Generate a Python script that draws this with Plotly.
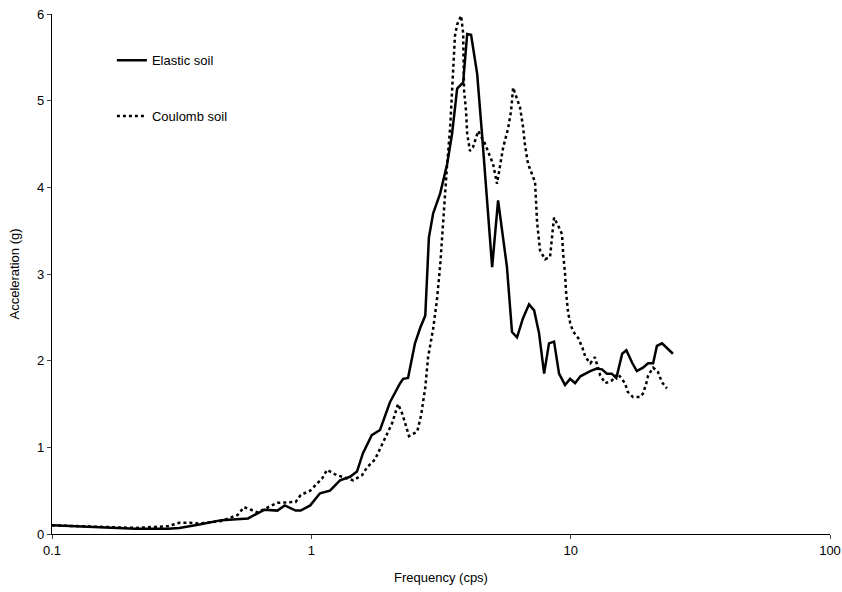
import plotly.graph_objects as go

# Elastic soil response spectrum (solid line)
elastic_freq = [0.10, 0.15, 0.21, 0.28, 0.31, 0.37, 0.45, 0.57, 0.66, 0.74, 0.79, 0.87, 0.91,
                0.99, 1.08, 1.18, 1.29, 1.41, 1.50, 1.58, 1.71, 1.84, 2.01, 2.20, 2.26, 2.36,
                2.51, 2.63, 2.75, 2.84, 2.95, 3.14, 3.34, 3.49, 3.65, 3.85, 3.99, 4.13, 4.36,
                4.55, 4.76, 4.98, 5.25, 5.54, 5.68, 5.94, 6.21, 6.55, 6.91, 7.23, 7.55, 7.90,
                8.25, 8.63, 9.02, 9.51, 9.95, 10.4, 10.9, 11.9, 12.6, 13.2, 13.8, 14.4, 15.0,
                15.8, 16.4, 17.3, 18.0, 19.0, 19.9, 20.8, 21.5, 22.5, 23.5, 24.8]
elastic_acc = [0.10, 0.08, 0.06, 0.06, 0.07, 0.11, 0.16, 0.18, 0.28, 0.27, 0.33, 0.27, 0.27,
               0.33, 0.47, 0.50, 0.62, 0.66, 0.72, 0.93, 1.14, 1.20, 1.52, 1.74, 1.79, 1.80,
               2.20, 2.38, 2.52, 3.42, 3.70, 3.93, 4.27, 4.62, 5.14, 5.21, 5.77, 5.76, 5.31,
               4.62, 3.85, 3.08, 3.85, 3.31, 3.08, 2.33, 2.27, 2.49, 2.65, 2.58, 2.32, 1.85,
               2.20, 2.22, 1.85, 1.72, 1.79, 1.74, 1.82, 1.88, 1.91, 1.90, 1.85, 1.85, 1.80,
               2.08, 2.12, 1.97, 1.88, 1.92, 1.97, 1.97, 2.17, 2.20, 2.15, 2.08]

# Coulomb soil response spectrum (dotted line)
coulomb_freq = [0.10, 0.15, 0.21, 0.28, 0.31, 0.34, 0.37, 0.45, 0.52, 0.55, 0.62, 0.74, 0.87,
                0.91, 0.99, 1.10, 1.15, 1.25, 1.45, 1.57, 1.64, 1.76, 1.89, 2.05, 2.16, 2.24,
                2.30, 2.38, 2.56, 2.65, 2.75, 2.82, 2.95, 3.05, 3.14, 3.19, 3.25, 3.34, 3.43,
                3.52, 3.58, 3.65, 3.78, 3.85, 3.88, 3.95, 3.99, 4.09, 4.20, 4.40, 4.68, 4.85,
                5.02, 5.20, 5.34, 5.49, 5.74, 5.89, 6.00, 6.21, 6.38, 6.55, 6.67, 6.85, 7.10,
                7.29, 7.42, 7.62, 7.97, 8.33, 8.55, 8.63, 8.94, 9.26, 9.35, 9.51, 9.60, 9.77,
                9.95, 10.2, 10.7, 11.1, 11.4, 11.9, 12.4, 13.0, 13.6, 14.4, 15.2, 16.2, 16.6,
                17.4, 18.5, 19.0, 19.5, 19.9, 20.8, 21.7, 22.5, 23.5]
coulomb_acc = [0.10, 0.08, 0.07, 0.09, 0.13, 0.13, 0.12, 0.15, 0.22, 0.31, 0.25, 0.36, 0.37,
               0.45, 0.50, 0.64, 0.74, 0.68, 0.62, 0.68, 0.77, 0.86, 1.05, 1.28, 1.50, 1.39,
               1.28, 1.13, 1.18, 1.37, 1.69, 2.04, 2.37, 2.70, 3.10, 3.40, 3.80, 4.27, 4.69,
               5.31, 5.75, 5.88, 5.98, 5.78, 5.12, 4.88, 4.62, 4.42, 4.46, 4.65, 4.50, 4.38,
               4.27, 4.04, 4.27, 4.46, 4.68, 4.88, 5.15, 5.03, 4.92, 4.70, 4.48, 4.27, 4.16,
               4.06, 3.60, 3.27, 3.17, 3.20, 3.54, 3.65, 3.56, 3.46, 3.24, 3.01, 2.79, 2.56,
               2.44, 2.34, 2.26, 2.15, 2.04, 1.97, 2.04, 1.83, 1.74, 1.77, 1.85, 1.74, 1.64,
               1.58, 1.58, 1.62, 1.72, 1.83, 1.92, 1.87, 1.75, 1.68]

x_ticks = [0.1, 1, 10, 100]
x_tick_labels = ["0.1", "1", "10", "100"]
y_ticks = [0, 1, 2, 3, 4, 5, 6]

FONT = "Liberation Sans, Arial, sans-serif"

fig = go.Figure()

fig.add_trace(go.Scatter(
    x=elastic_freq, y=elastic_acc,
    name="Elastic soil", mode="lines",
    legendgroup="a",
    line=dict(color="black", width=2.5)
))
fig.add_trace(go.Scatter(
    x=coulomb_freq, y=coulomb_acc,
    name="Coulomb soil", mode="lines",
    legendgroup="b",
    line=dict(color="black", width=2.5, dash="dot")
))

fig.update_layout(
    width=842, height=592,
    margin=dict(l=52, r=12, t=14, b=58),
    plot_bgcolor="white",
    paper_bgcolor="white",
    font=dict(family=FONT, size=13, color="black"),
    showlegend=True,
    legend=dict(
        x=0.077, y=0.94,
        xanchor="left", yanchor="top",
        bgcolor="rgba(0,0,0,0)",
        tracegroupgap=36,
        font=dict(size=13)
    ),
    xaxis=dict(
        type="log",
        range=[-1, 2],
        tickvals=x_ticks,
        ticktext=x_tick_labels,
        ticks="outside", ticklen=4,
        ticklabeloverflow="allow",
        showline=True, linecolor="black", linewidth=1.2,
        showgrid=False, zeroline=False,
        automargin=False,
        title=dict(text="Frequency (cps)", font=dict(size=13), standoff=16)
    ),
    yaxis=dict(
        range=[0, 6],
        tickvals=y_ticks,
        ticks="outside", ticklen=4,
        ticklabeloverflow="allow",
        showline=True, linecolor="black", linewidth=1.2,
        showgrid=False, zeroline=False,
        automargin=False,
        title=dict(text="Acceleration (g)", font=dict(size=13), standoff=14)
    )
)

# drop the default 8px page margin so the figure fills the window exactly
fig.write_html("out.html", config={"displayModeBar": False},
               post_script="document.body.style.margin='0px';")
